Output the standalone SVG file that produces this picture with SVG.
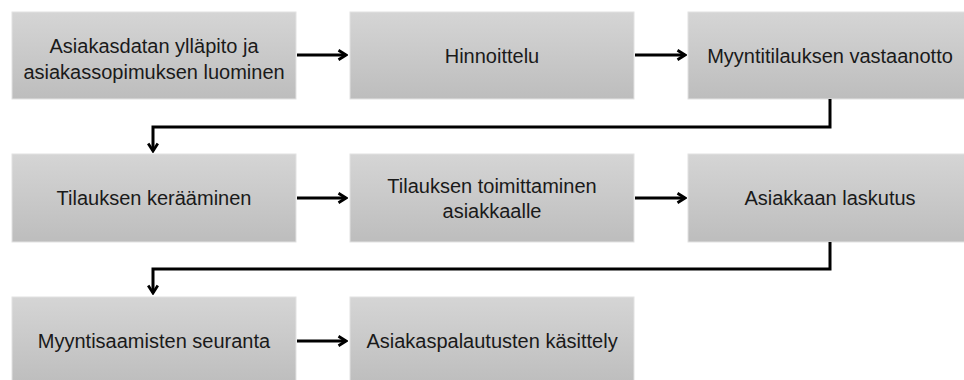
<svg xmlns="http://www.w3.org/2000/svg" width="964" height="380" viewBox="0 0 964 380">
  <defs>
    <linearGradient id="boxGrad" x1="0" y1="0" x2="0" y2="1">
      <stop offset="0" stop-color="#d5d5d5"/>
      <stop offset="1" stop-color="#bdbdbd"/>
    </linearGradient>
    <marker id="arrow" viewBox="0 0 12 12" refX="10" refY="6" markerWidth="12" markerHeight="12" markerUnits="userSpaceOnUse" orient="auto">
      <path d="M2.5,1.2 L10,6 L2.5,10.8" fill="none" stroke="#000" stroke-width="2.8" stroke-linejoin="miter"/>
    </marker>
  </defs>
  <style>
    .box { fill: url(#boxGrad); stroke: #e2e2e2; stroke-width: 1; }
    .lbl { font-family: "Liberation Sans", Arial, sans-serif; font-size: 20px; fill: #1a1a1a; text-anchor: middle; }
    .conn { fill: none; stroke: #000; stroke-width: 3; marker-end: url(#arrow); }
  </style>
  <rect width="964" height="380" fill="#ffffff"/>

  <g id="n1">
    <rect class="box" x="12" y="12" width="284" height="87"/>
    <text class="lbl" x="154" y="53">Asiakasdatan ylläpito ja</text>
    <text class="lbl" x="154" y="79">asiakassopimuksen luominen</text>
  </g>
  <g id="n2">
    <rect class="box" x="350" y="12" width="284" height="87"/>
    <text class="lbl" x="492" y="62.5">Hinnoittelu</text>
  </g>
  <g id="n3">
    <rect class="box" x="688" y="12" width="284" height="87"/>
    <text class="lbl" x="830" y="62.5">Myyntitilauksen vastaanotto</text>
  </g>
  <g id="n4">
    <rect class="box" x="12" y="154" width="284" height="88"/>
    <text class="lbl" x="154" y="205">Tilauksen kerääminen</text>
  </g>
  <g id="n5">
    <rect class="box" x="350" y="154" width="284" height="88"/>
    <text class="lbl" x="492" y="193">Tilauksen toimittaminen</text>
    <text class="lbl" x="492" y="218">asiakkaalle</text>
  </g>
  <g id="n6">
    <rect class="box" x="688" y="154" width="284" height="88"/>
    <text class="lbl" x="830" y="205">Asiakkaan laskutus</text>
  </g>
  <g id="n7">
    <rect class="box" x="12" y="297" width="284" height="88"/>
    <text class="lbl" x="154" y="348">Myyntisaamisten seuranta</text>
  </g>
  <g id="n8">
    <rect class="box" x="350" y="297" width="284" height="88"/>
    <text class="lbl" x="492" y="348">Asiakaspalautusten käsittely</text>
  </g>

  <g id="connectors">
    <path class="conn" d="M297,55 H346"/>
    <path class="conn" d="M635,55 H685"/>
    <path class="conn" d="M830,99 V127 H153 V151"/>
    <path class="conn" d="M297,198 H346"/>
    <path class="conn" d="M635,198 H685"/>
    <path class="conn" d="M830,242 V269 H153 V293"/>
    <path class="conn" d="M297,341 H346"/>
  </g>
</svg>
